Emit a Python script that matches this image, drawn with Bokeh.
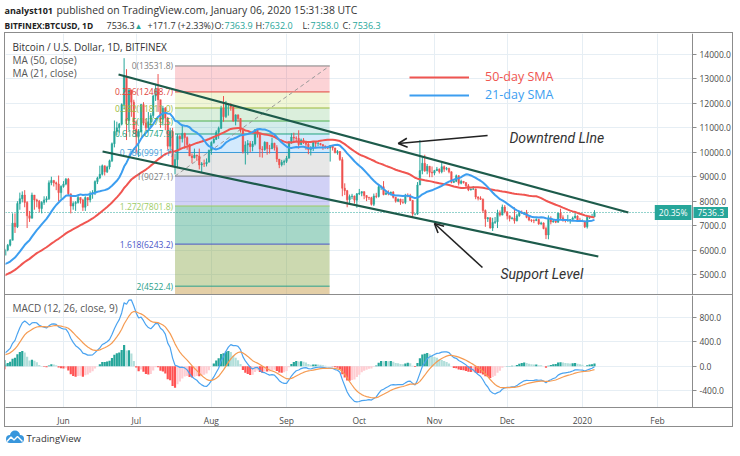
import numpy as np
import pandas as pd
from bokeh.plotting import figure
from bokeh.layouts import column
from bokeh.models import (ColumnDataSource, Range1d, LinearAxis, FixedTicker,
                          PrintfTickFormatter, Grid, Label, Arrow, OpenHead,
                          Legend, LegendItem)
from bokeh.core.properties import value
from bokeh.embed import file_html
from bokeh.resources import INLINE

# ------------------------------------------------------------------ data
# warm-up closes (Feb 1 - May 7 2019), used only for the moving averages / MACD
warm_feb = [3500, 3520, 3440, 3430, 3460, 3410, 3400, 3660, 3670, 3700,
            3620, 3630, 3620, 3600, 3620, 3640, 3700, 3930, 3950, 4000,
            3970, 4020, 4160, 3780, 3850, 3830, 3840, 3850]
warm_mar = [3860, 3860, 3820, 3740, 3890, 3900, 3910, 3890, 3970, 3950,
            3900, 3910, 3900, 3910, 3950, 4070, 4030, 4030, 4080, 4100,
            4030, 4040, 4050, 4040, 3970, 3990, 4150, 4130, 4170, 4170,
            4180]
warm_apr = [4150, 4900, 4980, 4900, 5040, 5060, 5200, 5280, 5200, 5330,
            5050, 5080, 5080, 5170, 5040, 5220, 5250, 5310, 5290, 5340,
            5280, 5400, 5500, 5380, 5170, 5240, 5250, 5240, 5180, 5310]
warm_may = [5330, 5400, 5650, 5720, 5690, 5650, 5780]

# visible daily candles (May 8 2019 - Jan 6 2020)
close_may = [6000, 6200, 6400, 7100, 6950, 7900, 8100, 8250, 7950, 7400,
             7300, 8250, 8050, 8000, 7700, 7950, 8050, 8100, 8750, 8850,
             8750, 8700, 8350, 8600]
high_may = [6050, 6250, 6450, 7500, 7500, 8000, 8350, 8400, 8450, 8000,
            7600, 8350, 8250, 8100, 8050, 8000, 8200, 8200, 8850, 9000,
            8850, 8800, 9050, 8650]
low_may = [5800, 5950, 6150, 6400, 6700, 6900, 7650, 7950, 7750, 6900,
           7150, 7300, 7650, 7750, 7550, 7500, 7850, 7950, 8050, 8650,
           8600, 8450, 8000, 8100]
close_jun = [8700, 8900, 8300, 7800, 7900, 7950, 8150, 8050, 7750, 8150,
             8050, 8300, 8350, 8800, 8950, 9100, 9450, 9200, 9400, 9650,
             10350, 10850, 11000, 11150, 11950, 13100, 11300, 12550, 12050, 10950]
high_jun = [8820, 8950, 8950, 8300, 7990, 8000, 8250, 8150, 8100, 8200,
            8150, 8400, 8450, 8850, 9000, 9450, 9500, 9450, 9450, 9700,
            10400, 11300, 11250, 11200, 12000, 13850, 13400, 12600, 12500, 12150]
low_jun = [8550, 8650, 8250, 7500, 7650, 7600, 7900, 7900, 7600, 7600,
           7800, 7950, 8100, 8250, 8700, 8900, 9050, 9050, 9150, 9300,
           9600, 10200, 10700, 10800, 11100, 11750, 10500, 10900, 11450, 10750]
close_jul = [10650, 10850, 11950, 11200, 11000, 11250, 11500, 12300, 12600, 12150,
             11350, 11800, 11400, 10250, 10850, 9450, 9700, 10650, 10550, 10770,
             10600, 10320, 9850, 9780, 9880, 9850, 9480, 9530, 9520, 9590,
             10080]
high_jul = [11300, 10950, 11980, 12050, 11350, 11650, 11600, 12350, 12800, 13200,
            12150, 11900, 11850, 11450, 11000, 11000, 9950, 10750, 10700, 11100,
            10800, 10650, 10350, 9950, 10150, 9900, 10150, 9600, 9700, 9750,
            10110]
low_jul = [9950, 9800, 10800, 11100, 10900, 10950, 11000, 11400, 12100, 11650,
           11000, 11100, 10900, 10100, 9950, 9400, 9100, 9350, 10150, 10400,
           10150, 10100, 9850, 9550, 9750, 9650, 9300, 9150, 9400, 9420,
           9600]
close_aug = [10400, 10530, 10820, 10980, 11800, 11460, 11960, 11960, 11850, 11280,
             11530, 11380, 10900, 10030, 10300, 10360, 10230, 10340, 10920, 10760,
             10130, 10110, 10410, 10150, 10140, 10370, 10190, 9720, 9490, 9590,
             9630]
high_aug = [10450, 10650, 10900, 11050, 11900, 12300, 12100, 12000, 12000, 11900,
            11550, 11550, 11400, 10900, 10450, 10500, 10460, 10460, 10950, 10940,
            10790, 10250, 10450, 10420, 10300, 10600, 10390, 10290, 9720, 9690,
            9700]
low_aug = [9900, 10350, 10500, 10550, 10950, 11250, 11400, 11500, 11700, 11250,
           11100, 11250, 10800, 9950, 9500, 9900, 10000, 10040, 10280, 10600,
           9800, 9780, 10060, 9900, 9950, 10140, 10070, 9600, 9350, 9420,
           9470]
close_sep = [9760, 10390, 10620, 10580, 10570, 10320, 10500, 10410, 10330, 10110,
             10160, 10410, 10360, 10360, 10310, 10260, 10200, 10170, 10270, 10180,
             9980, 10030, 9700, 8530, 8430, 8060, 8190, 8210, 8040, 8300]
high_sep = [9850, 10460, 10780, 10800, 10650, 10900, 10560, 10580, 10480, 10380,
            10250, 10460, 10440, 10420, 10380, 10340, 10270, 10250, 10300, 10290,
            10180, 10090, 10050, 9800, 8730, 8460, 8270, 8300, 8230, 8330]
low_sep = [9560, 9750, 10350, 10400, 10450, 10150, 10300, 10340, 10100, 9920,
           9870, 10050, 10170, 10260, 10280, 10100, 10150, 10130, 9620, 10070,
           9960, 9900, 9650, 8200, 8250, 7750, 7870, 8080, 7900, 7730]
close_oct = [8330, 8390, 8230, 8150, 8140, 7870, 8210, 8190, 8590, 8590,
             8270, 8330, 8310, 8370, 8160, 8000, 8080, 7960, 7950, 8230,
             8220, 8030, 7470, 7470, 8660, 9250, 9550, 9240, 9430, 9180,
             9150]
high_oct = [8500, 8400, 8400, 8240, 8180, 8180, 8310, 8340, 8670, 8640,
            8820, 8420, 8440, 8390, 8410, 8170, 8110, 8100, 8090, 8300,
            8320, 8300, 8050, 7500, 8780, 10500, 9800, 9900, 9520, 9440,
            9420]
low_oct = [8250, 8200, 8080, 8000, 8050, 7820, 7800, 8120, 8150, 8460,
           8240, 8270, 8240, 8250, 8110, 7940, 7960, 7850, 7890, 7880,
           8160, 8010, 7350, 7420, 7440, 8970, 9100, 9200, 9100, 8980,
           8980]
close_nov = [9250, 9310, 9200, 9410, 9310, 9340, 9200, 8770, 8810, 9040,
             8730, 8810, 8760, 8630, 8460, 8490, 8500, 8170, 8120, 8080,
             7620, 7280, 7320, 6900, 7130, 7160, 7520, 7430, 7760, 7570]
high_nov = [9280, 9400, 9340, 9560, 9460, 9400, 9370, 9220, 8880, 9090,
            9060, 8880, 8810, 8770, 8700, 8520, 8620, 8510, 8200, 8200,
            8110, 7660, 7350, 7340, 7320, 7350, 7650, 7620, 7860, 7840]
low_nov = [9060, 9230, 9130, 9140, 9200, 9260, 9140, 8730, 8740, 8780,
           8640, 8690, 8720, 8580, 8410, 8440, 8470, 8080, 8030, 8050,
           7520, 6950, 7150, 6880, 6780, 7070, 6900, 7370, 7420, 7500]
close_dec = [7400, 7290, 7310, 7200, 7400, 7540, 7510, 7520, 7340, 7230,
             7210, 7200, 7250, 7070, 7110, 6880, 6620, 7280, 7150, 7190,
             7140, 7510, 7320, 7250, 7200, 7200, 7250, 7310, 7390, 7220,
             7170]
high_dec = [7570, 7410, 7360, 7750, 7480, 7560, 7620, 7560, 7640, 7400,
            7260, 7260, 7300, 7280, 7160, 7130, 6960, 7420, 7380, 7230,
            7190, 7520, 7690, 7420, 7270, 7440, 7270, 7370, 7520, 7420,
            7320]
low_dec = [7250, 7170, 7250, 7080, 7170, 7360, 7490, 7430, 7300, 7180,
           7140, 7100, 7200, 7030, 7030, 6850, 6450, 6440, 7050, 7120,
           7100, 7120, 7270, 7160, 7130, 7160, 7080, 7250, 7290, 7200,
           7150]
close_jan = [7180, 6950, 7340, 7350, 7363.9, 7536.3]
high_jan = [7250, 7200, 7410, 7390, 7480, 7632.0]
low_jan = [7150, 6900, 6880, 7270, 7320, 7358.0]

segment_starts = ["2019-05-08", "2019-06-01", "2019-07-01", "2019-08-01", "2019-09-01",
                  "2019-10-01", "2019-11-01", "2019-12-01", "2020-01-01"]

# time axis ticks
month_ticks = ["2019-06-01", "2019-07-01", "2019-08-01", "2019-09-01", "2019-10-01",
               "2019-11-01", "2019-12-01", "2020-01-01", "2020-02-01"]
month_labels = ["Jun", "Jul", "Aug", "Sep", "Oct", "Nov", "Dec", "2020", "Feb"]
price_ticks = [5000, 6000, 7000, 8000, 9000, 10000, 11000, 12000, 13000, 14000]
macd_ticks = [-400, 0, 400, 800]

# visible windows
view_start = "2019-05-08 02:00"
view_axis = "2020-02-15 10:00"     # where the price scale sits
view_end = "2020-03-03 18:00"
price_view = [4141, 14859]
macd_view = [-669, 1150]

# Fibonacci retracement drawing (anchor dates / prices)
fib_dates = ["2019-07-17 00:00", "2019-09-18 18:00"]
fib_prices = [9027.1, 13531.8]
fib_ratios = [0, 0.236, 0.382, 0.5, 0.618, 0.786, 1, 1.272, 1.618, 2, 2.618]
fib_line_colors = ["#808080", "#e0443a", "#9cba3c", "#4caf50", "#22a37f",
                   "#3d9bd9", "#808080", "#9ccc65", "#4a55c8", "#2aa08a"]
fib_zone_colors = ["#f23645", "#c0d444", "#4caf50", "#26a69a", "#2196f3",
                   "#9e9e9e", "#5b5be0", "#15956f", "#80a03a", "#c9a050"]
fib_zone_alpha = [0.22, 0.22, 0.2, 0.2, 0.2, 0.25, 0.28, 0.38, 0.4, 0.5]

# trend lines (date, price)
upper_dates = ["2019-06-23 17:00", "2020-01-20 00:00"]
upper_prices = [13182, 7536]
lower_dates = ["2019-06-17 03:00", "2020-01-07 14:00"]
lower_prices = [10031, 5735]

# annotation arrows (start -> head) and texts
arrow_start_dates = ["2019-11-22 22:00", "2019-11-20 19:00"]
arrow_start_prices = [10686, 5285]
arrow_end_dates = ["2019-10-17 02:00", "2019-11-01 00:00"]
arrow_end_prices = [10358, 7085]
note_texts = ["Downtrend LIne", "Support Level"]
note_dates = ["2019-12-01 22:00", "2019-11-28 05:00"]
note_prices = [10604, 5040]

# TradingView logo cloud shape
logo_cx = [9.5, 14.5, 19.5]
logo_cy = [13.5, 17.0, 13.5]
logo_r = [4.0, 5.0, 4.0]
logo_zig_x = [6.5, 10.5, 13.5, 17.0, 22.0]
logo_zig_y = [11.0, 15.5, 12.5, 16.0, 11.0]

# ------------------------------------------------------------------ helpers
TEAL = "#26a69a"
RED = "#ef5350"
GRID = "#e6eef4"
BORDER = "#8c8c8c"
TXT = "#4a4a4a"
FONT = "Open Sans"
DAY = 86400000.0


def ms(d):
    return pd.Timestamp(d).value / 1e6


close_segs = [close_may, close_jun, close_jul, close_aug, close_sep, close_oct, close_nov, close_dec, close_jan]
high_segs = [high_may, high_jun, high_jul, high_aug, high_sep, high_oct, high_nov, high_dec, high_jan]
low_segs = [low_may, low_jun, low_jul, low_aug, low_sep, low_oct, low_nov, low_dec, low_jan]

dates, closes, highs, lows = [], [], [], []
for st, c, h, l in zip(segment_starts, close_segs, high_segs, low_segs):
    dates += list(pd.date_range(st, periods=len(c), freq="D"))
    closes += c
    highs += h
    lows += l

warm = warm_feb + warm_mar + warm_apr + warm_may
warm_dates = list(pd.date_range("2019-02-01", periods=len(warm), freq="D"))
opens = [warm[-1]] + closes[:-1]

all_dates = warm_dates + dates
all_close = pd.Series(warm + closes, dtype=float)
sma50 = all_close.rolling(50).mean()
sma21 = all_close.rolling(21).mean()
ema12 = all_close.ewm(span=12, adjust=False).mean()
ema26 = all_close.ewm(span=26, adjust=False).mean()
macd = ema12 - ema26
signal = macd.ewm(span=9, adjust=False).mean()
hist = macd - signal
prev = hist.shift(1).fillna(0)
hist_col = np.where(hist >= 0,
                    np.where(hist >= prev, "#26a69a", "#b2dfdb"),
                    np.where(hist < prev, "#ff5252", "#ffcdd2"))

xs_ms = [ms(d) for d in dates]
all_ms = [ms(d) for d in all_dates]
up = [c >= o for o, c in zip(opens, closes)]
cand = ColumnDataSource(dict(
    x=xs_ms, open=opens, close=closes, high=highs, low=lows,
    top=[max(o, c) for o, c in zip(opens, closes)],
    bottom=[min(o, c) for o, c in zip(opens, closes)],
    color=[TEAL if u else RED for u in up]))
ind = ColumnDataSource(dict(x=all_ms, sma50=sma50, sma21=sma21, macd=macd,
                            signal=signal, hist=hist, hcol=list(hist_col)))

tick_ms = [ms(t) for t in month_ticks]
X0, XAX, X1 = ms(view_start), ms(view_axis), ms(view_end)
W = 729
H1 = 262
H2F = 113
H2B = 20

xr = Range1d(X0, X1)


def bare(p):
    p.grid.visible = False


def axis_style(ax):
    ax.axis_line_color = BORDER
    ax.major_tick_line_color = BORDER
    ax.major_tick_in = 0
    ax.minor_tick_line_color = None
    ax.major_label_text_font = FONT
    ax.major_label_text_font_size = "8.5px"
    ax.major_label_text_color = TXT


# ------------------------------------------------------------------ header
HH = 32
ph = figure(width=740, height=HH, x_range=Range1d(0, 740), y_range=Range1d(0, HH),
            x_axis_location=None, y_axis_location=None, toolbar_location=None,
            output_backend="svg", min_border=0, outline_line_color=None)
bare(ph)
L1, L2 = 22.5, 7
header_pieces = [
    ("analyst101", 4, L1, "bold", 9, "#222222"),
    ("published on TradingView.com, January 06, 2020 15:31:38 UTC", 56, L1, "normal", 10.4, "#333333"),
    ("BITFINEX:BTCUSD, 1D", 4, L2, "bold", 8.4, "#222222"),
    ("7536.3", 106, L2, "normal", 9, "#333333"),
    ("\u25b2", 134, L2, "normal", 8, TEAL),
    ("+171.7 (+2.33%)", 147, L2, "normal", 9, "#333333"),
    ("O:", 214, L2, "normal", 9, "#333333"),
    ("7363.9", 224, L2, "normal", 9, TEAL),
    ("H:", 255, L2, "normal", 9, "#333333"),
    ("7632.0", 264, L2, "normal", 9, TEAL),
    ("L:", 302, L2, "normal", 9, "#333333"),
    ("7358.0", 310, L2, "normal", 9, TEAL),
    ("C:", 342, L2, "normal", 9, "#333333"),
    ("7536.3", 352, L2, "normal", 9, TEAL),
]
for t, x, y, st, fs, col in header_pieces:
    ph.add_layout(Label(x=x, y=y, text=t, text_font=FONT, text_font_size="%gpx" % fs,
                        text_font_style=st, text_color=col, text_baseline="middle"))

# ------------------------------------------------------------------ price pane
p1 = figure(width=W, height=H1, x_range=xr, y_range=Range1d(*price_view),
            x_axis_location=None, y_axis_location=None, toolbar_location=None,
            output_backend="svg", min_border=0, outline_line_color=None,
            styles={"margin-left": "4px", "border-top": "1px solid " + BORDER,
                    "border-left": "1px solid " + BORDER, "border-right": "1px solid " + BORDER})
bare(p1)
p1.add_layout(Grid(dimension=0, ticker=FixedTicker(ticks=tick_ms), grid_line_color=GRID))
p1.add_layout(Grid(dimension=1, ticker=FixedTicker(ticks=price_ticks), grid_line_color=GRID))
# blank price-scale strip
p1.quad(left=[XAX], right=[X1], bottom=[price_view[0]], top=[price_view[1]],
        fill_color="white", line_color=None)
yax = LinearAxis(ticker=FixedTicker(ticks=price_ticks), formatter=PrintfTickFormatter(format="%.1f"),
                 major_tick_out=4, major_label_standoff=3, fixed_location=XAX)
axis_style(yax)
p1.add_layout(yax, "right")

# fib zones
f0, f1 = ms(fib_dates[0]), ms(fib_dates[1])
lo, hi = fib_prices
fib_levels = [hi - r * (hi - lo) for r in fib_ratios]
zones = ColumnDataSource(dict(left=[f0] * 10, right=[f1] * 10, top=fib_levels[:-1],
                              bottom=fib_levels[1:], color=fib_zone_colors, alpha=fib_zone_alpha))
p1.quad(left="left", right="right", top="top", bottom="bottom", fill_color="color",
        fill_alpha="alpha", line_color=None, source=zones)
lvl = ColumnDataSource(dict(x0=[f0] * 10, x1=[f1] * 10, y=fib_levels[:-1], color=fib_line_colors,
                            label=["%g(%.1f)" % (r, round(v + 1e-6, 1)) for r, v in zip(fib_ratios[:-1], fib_levels[:-1])]))
p1.segment(x0="x0", x1="x1", y0="y", y1="y", line_color="color", line_width=1, source=lvl)
p1.line([f0, f1], [lo, hi], line_color="#9a9a9a", line_dash="4 3", line_width=1)

# dotted last-price line
p1.segment(x0=[X0], x1=[XAX], y0=[closes[-1]], y1=[closes[-1]], line_color=TEAL,
           line_dash="1 2", line_width=1)

# candles
p1.segment(x0="x", x1="x", y0="low", y1="high", line_color="color", line_width=1, source=cand)
p1.vbar(x="x", width=0.62 * DAY, top="top", bottom="bottom", fill_color="color",
        line_color="color", line_width=0.5, source=cand)

# moving averages
r50 = p1.line("x", "sma50", line_color="#f05550", line_width=2, source=ind)
r21 = p1.line("x", "sma21", line_color="#3c9ef0", line_width=2, source=ind)

# fib labels on top
p1.text(x="x0", y="y", text="label", text_color="color", text_align="right",
        text_baseline="middle", x_offset=-2, text_font=value(FONT), text_font_size="8.5px",
        source=lvl)

# trend lines
p1.line([ms(d) for d in upper_dates], upper_prices, line_color="#1d5b4b", line_width=2.2)
p1.line([ms(d) for d in lower_dates], lower_prices, line_color="#1d5b4b", line_width=2.2)

# arrows + notes
for sd, sp, ed, ep in zip(arrow_start_dates, arrow_start_prices, arrow_end_dates, arrow_end_prices):
    p1.add_layout(Arrow(end=OpenHead(size=9, line_width=1.6, line_color="#222222"),
                        x_start=ms(sd), y_start=sp, x_end=ms(ed), y_end=ep,
                        line_color="#222222", line_width=1.6))
for t, d, pr in zip(note_texts, note_dates, note_prices):
    p1.add_layout(Label(x=ms(d), y=pr, text=t, text_font="Roboto", text_font_size="14px",
                        text_font_style="italic", text_color="#333333", text_baseline="middle"))

# legends (user drawn)
for rend, lab, col, ly in [(r50, "50-day SMA", "#f05550", 210), (r21, "21-day SMA", "#3c9ef0", 192)]:
    p1.add_layout(Legend(items=[LegendItem(label=lab, renderers=[rend])], location=(404, ly),
                         background_fill_alpha=0, border_line_color=None, padding=0, margin=0,
                         spacing=0, glyph_width=60, glyph_height=16, label_height=16,
                         label_standoff=16, label_text_font=FONT, label_text_font_size="12.5px",
                         label_text_color=col))

# pane captions
for t, y, col in [("Bitcoin / U.S. Dollar, 1D, BITFINEX", H1 - 13, "#333333"),
                  ("MA (50, close)", H1 - 26, "#555555"),
                  ("MA (21, close)", H1 - 39, "#555555")]:
    p1.add_layout(Label(x=7, y=y, x_units="screen", y_units="screen", text=t, text_font=FONT,
                        text_font_size="10px", text_color=col, text_baseline="middle"))

# last price tag
for t, align, off in [("20.35%", "right", -1), ("%.1f" % closes[-1], "left", 1)]:
    p1.add_layout(Label(x=XAX, y=closes[-1], x_offset=off, text=t,
                        text_font=FONT, text_font_size="8.5px", text_color="white",
                        text_align=align, text_baseline="middle",
                        padding=dict(left=4, right=4, top=2, bottom=2),
                        background_fill_color=TEAL))

# ------------------------------------------------------------------ MACD pane
p2 = figure(width=W, height=H2F + H2B, x_range=xr, y_range=Range1d(*macd_view),
            x_axis_location=None, y_axis_location=None, toolbar_location=None,
            output_backend="svg", min_border_left=0, min_border_right=0,
            min_border_top=0, min_border_bottom=H2B, outline_line_color=None,
            styles={"margin-left": "4px", "border": "1px solid " + BORDER})
bare(p2)
p2.add_layout(Grid(dimension=0, ticker=FixedTicker(ticks=tick_ms), grid_line_color=GRID))
p2.add_layout(Grid(dimension=1, ticker=FixedTicker(ticks=macd_ticks), grid_line_color=GRID))
p2.quad(left=[XAX], right=[X1], bottom=[macd_view[0]], top=[macd_view[1]],
        fill_color="white", line_color=None)
y2 = LinearAxis(ticker=FixedTicker(ticks=macd_ticks), formatter=PrintfTickFormatter(format="%.1f"),
                major_tick_out=4, major_label_standoff=3, fixed_location=XAX)
axis_style(y2)
p2.add_layout(y2, "right")
x2 = LinearAxis(ticker=FixedTicker(ticks=tick_ms),
                major_label_overrides={t: l for t, l in zip(tick_ms, month_labels)},
                major_tick_out=0, major_label_standoff=7)
axis_style(x2)
p2.add_layout(x2, "below")
# divider between time scale and price scale corner
x3 = LinearAxis(ticker=FixedTicker(ticks=[XAX]), fixed_location=macd_view[0],
                major_tick_out=H2B, major_tick_in=0, major_tick_line_color=BORDER,
                axis_line_color=None, minor_tick_line_color=None,
                major_label_text_color=None, major_label_text_font_size="1px")
p2.add_layout(x3, "below")

p2.vbar(x="x", top="hist", bottom=0, width=0.9 * DAY, fill_color="hcol", line_color=None, source=ind)
p2.line("x", "macd", line_color="#4aa3f0", line_width=1.2, source=ind)
p2.line("x", "signal", line_color="#f59b52", line_width=1.2, source=ind)
p2.add_layout(Label(x=7, y=H2F - 13, x_units="screen", y_units="screen",
                    text="MACD (12, 26, close, 9)", text_font=FONT, text_font_size="10px",
                    text_color="#555555", text_baseline="middle"))

# ------------------------------------------------------------------ logo
pl = figure(width=740, height=25, x_range=Range1d(0, 740), y_range=Range1d(0, 25),
            x_axis_location=None, y_axis_location=None, toolbar_location=None,
            output_backend="svg", min_border=0, outline_line_color=None)
bare(pl)
pl.circle(x=logo_cx, y=logo_cy, radius=logo_r, fill_color="#3896dc", line_color=None)
pl.quad(left=[logo_cx[0]], right=[logo_cx[2]], top=[logo_cy[0]], bottom=[logo_cy[0] - logo_r[0]],
        fill_color="#3896dc", line_color=None)
pl.line(logo_zig_x, logo_zig_y, line_color="white", line_width=1.4)
pl.add_layout(Label(x=26, y=14, text="TradingView", text_font=FONT, text_font_size="9.5px",
                    text_color="#333333", text_baseline="middle"))

layout = column(ph, p1, p2, pl, spacing=0)
open("out.html", "w").write(file_html(layout, INLINE))
